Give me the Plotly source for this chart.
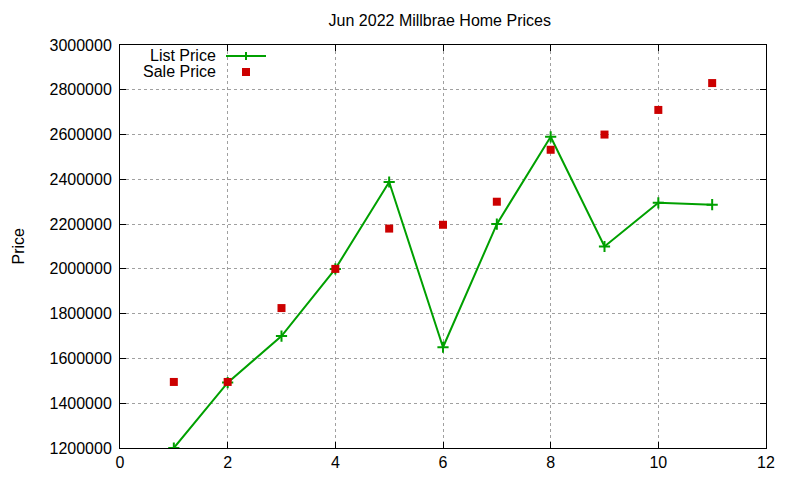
import plotly.graph_objects as go

# month index, list / sale prices
months = [1, 2, 3, 4, 5, 6, 7, 8, 9, 10, 11]
list_price = [1200000, 1492000, 1700000, 2000000, 2388000, 1650000,
              2200000, 2590000, 2100000, 2295000, 2287000]
sale_price = [1495000, 1495000, 1825000, 2000000, 2180000, 2197000,
              2300000, 2532000, 2600000, 2710000, 2830000]

x_ticks = [0, 2, 4, 6, 8, 10, 12]
y_ticks = [1200000 + 200000 * i for i in range(10)]

FONT = "Liberation Sans, Arial, sans-serif"
GREEN = "#00a000"
RED = "#cc0000"

fig = go.Figure()

fig.add_trace(go.Scatter(
    x=months, y=list_price, name="List Price",
    mode="lines+markers",
    line={"color": GREEN, "width": 2},
    marker={"symbol": "cross-thin", "size": 8,
            "line": {"color": GREEN, "width": 2}},
    showlegend=False,
))
fig.add_trace(go.Scatter(
    x=months, y=sale_price, name="Sale Price",
    mode="markers",
    marker={"symbol": "square", "size": 8, "color": RED},
    showlegend=False,
))

axis_common = dict(
    showline=True, linecolor="black", linewidth=1, mirror="ticks",
    ticks="inside", ticklen=6, tickcolor="black",
    showgrid=True, gridcolor="#a0a0a0", gridwidth=1, griddash="3px,3px",
    zeroline=False,
    tickfont={"family": FONT, "size": 16, "color": "black"},
)

# the page puts the figure 8px in from the corner, so margins compensate
fig.update_layout(
    width=800, height=480,
    margin={"l": 112, "r": 42, "t": 37, "b": 40},
    paper_bgcolor="white", plot_bgcolor="white",
    font={"family": FONT, "size": 16, "color": "black"},
    title={"text": "Jun 2022 Millbrae Home Prices", "x": 0.495, "xref": "paper",
           "y": 1 - 12 / 480, "yanchor": "middle",
           "font": {"family": FONT, "size": 16}},
    xaxis=dict(axis_common, range=[0, 12], tickvals=x_ticks),
    yaxis=dict(axis_common, range=[1200000, 3000000], tickvals=y_ticks,
               tickformat="d", ticklabelstandoff=4),
)

# screen pixel -> paper fraction (plot area spans 120..766, 45..448)
def px2x(p):
    return (p - 120) / 646

def px2y(p):
    return (448 - p) / 403

# y-axis label
fig.add_annotation(text="Price", textangle=-90, showarrow=False,
                   xref="paper", yref="paper", x=px2x(18), y=0.5,
                   xanchor="center", yanchor="middle",
                   font={"family": FONT, "size": 16})

# gnuplot-style key: text right-aligned, sample to the right
for label, ypix in [("List Price", 55), ("Sale Price", 71)]:
    fig.add_annotation(text=label, showarrow=False, xref="paper", yref="paper",
                       x=px2x(218), y=px2y(ypix), xanchor="right",
                       yanchor="middle", font={"family": FONT, "size": 16})

fig.add_shape(type="line", xref="paper", yref="paper",
              x0=px2x(226), x1=px2x(266), y0=px2y(56), y1=px2y(56),
              line={"color": GREEN, "width": 2})
fig.add_shape(type="line", xref="paper", yref="paper",
              x0=px2x(246), x1=px2x(246), y0=px2y(52), y1=px2y(60),
              line={"color": GREEN, "width": 2})
fig.add_shape(type="rect", xref="paper", yref="paper",
              x0=px2x(242), x1=px2x(250), y0=px2y(68), y1=px2y(76),
              fillcolor=RED, line={"width": 0})

fig.write_html("out.html")
